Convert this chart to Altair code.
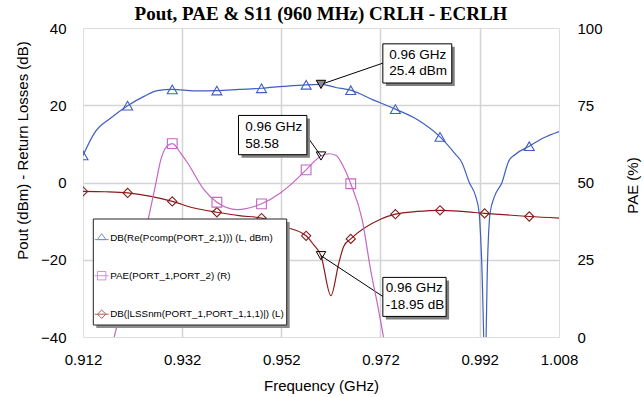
import altair as alt
import pandas as pd

title_text = "Pout, PAE & S11 (960 MHz) CRLH - ECRLH"
series_names = ["DB(Re(Pcomp(PORT_2,1))) (L, dBm)",
                "PAE(PORT_1,PORT_2) (R)",
                "DB(|LSSnm(PORT_1,PORT_1,1,1)|) (L)"]
series_colors = ["#3f5fbf", "#c466c4", "#8c1a1a"]
legend_symbols = ["M-1,0.2H1M-0.6,0.2L0,-0.65L0.6,0.2Z",
                  "M-1,0H1M-0.6,-0.6H0.6V0.6H-0.6Z",
                  "M-1,0H1M0,-0.6L0.6,0L0,0.6L-0.6,0Z"]

x_ticks = [0.912, 0.932, 0.952, 0.972, 0.992, 1.008]
left_ticks = [-40, -20, 0, 20, 40]
right_ticks = [0, 25, 50, 75, 100]

pout_freq = [0.912, 0.9143, 0.9176, 0.921, 0.9243, 0.927, 0.930, 0.9345, 0.939, 0.9435,
             0.948, 0.9525, 0.957, 0.960, 0.963, 0.966, 0.9705, 0.975, 0.9794, 0.984,
             0.987, 0.9884, 0.9899, 0.9912, 0.9919, 0.9924, 0.9931, 0.9936, 0.9941, 0.9950,
             0.9965, 0.9978, 0.9991, 1.002, 1.0048, 1.008]
pout_db = [7.0, 12.8, 16.7, 19.9, 22.3, 23.8, 24.1, 23.7, 23.8, 24.1,
           24.4, 24.9, 25.3, 25.4, 24.6, 23.9, 21.4, 19.0, 16.3, 11.8,
           7.5, 5.2, 0.0, -3.6, -7.9, -20.0, -48.0, -20.0, -7.9, -3.6,
           0.0, 5.4, 7.2, 9.4, 11.5, 13.2]

pae_freq = [0.9178, 0.9183, 0.9223, 0.925, 0.9266, 0.9277, 0.9289, 0.930, 0.9317, 0.9331,
            0.9364, 0.939, 0.9431, 0.948, 0.9518, 0.9539, 0.957, 0.960, 0.9616, 0.963,
            0.9645, 0.966, 0.9683, 0.970, 0.9716, 0.9726, 0.9732]
pae_pct = [-5.0, 0.0, 15.3, 36.9, 49.0, 57.4, 61.7, 62.6, 59.5, 56.3,
           47.7, 43.6, 41.2, 43.1, 46.6, 49.3, 54.1, 58.58, 59.3, 58.8,
           55.2, 49.6, 38.0, 21.8, 8.8, 0.0, -6.0]

s11_freq = [0.912, 0.9165, 0.921, 0.9257, 0.930, 0.9344, 0.939, 0.9435, 0.948, 0.9525,
            0.957, 0.9585, 0.960, 0.962, 0.9636, 0.9646, 0.966, 0.972, 0.975, 0.9794,
            0.984, 0.9885, 0.993, 0.9975, 1.002, 1.008]
s11_db = [-2.3, -2.4, -2.7, -3.6, -4.9, -6.6, -7.7, -8.6, -9.2, -11.4,
          -13.8, -16.1, -18.95, -29.3, -20.8, -16.5, -14.6, -9.5, -8.2, -7.5,
          -7.2, -7.5, -8.0, -8.4, -8.8, -9.2]

marker_freq = [0.912, 0.921, 0.930, 0.939, 0.948, 0.957, 0.966, 0.975, 0.984, 0.993, 1.002]

# marker callouts (index 1 is on the PAE axis)
ann_freq = [0.96, 0.96, 0.96]
ann_value = [25.4, 58.58, -18.95]
ann_line1 = ["0.96 GHz", "0.96 GHz", "0.96 GHz"]
ann_line2 = ["25.4 dBm", "58.58", "-18.95 dB"]
ann_box_f0 = [0.97247, 0.94336, 0.97247]
ann_box_f1 = [0.98637, 0.95715, 0.98523]
ann_box_top = [35.9, 71.7, -24.57]
ann_box_bot = [25.76, 59.0, -34.67]
ann_text_f = [0.97374, 0.94471, 0.97307]
ann_text1_v = [33.09, 67.96, -27.31]
ann_text2_v = [28.76, 62.55, -31.64]
ann_lead_f = [0.97247, 0.95715, 0.97247]
ann_lead_v = [30.9, 65.0, -29.5]
ann_fill = ["#8a8a8a", "white", "white"]

legend_proxy_freq = [1.05, 1.05, 1.05]
legend_proxy_val = [0, 0, 0]

FONT = "Liberation Sans"
GRID = "#d4d4d4"


def xenc(field="freq", **kw):
    return alt.X(f"{field}:Q",
                 scale=alt.Scale(domain=[0.912, 1.008], nice=False, zero=False),
                 axis=alt.Axis(values=x_ticks, format=".3f", title="Frequency (GHz)",
                               grid=True, gridColor=GRID, gridWidth=1.5,
                               gridOpacity={"condition": {"test": "datum.value < 0.9125 || datum.value > 1.0075", "value": 0}, "value": 1},
                               ticks=False, tickSize=0, domain=False,
                               labelFont=FONT, labelFontSize=15, labelColor="black",
                               labelPadding=15, labelFlush=False, labelOverlap=False,
                               titleFont=FONT, titleFontSize=15, titleFontWeight="normal",
                               titleColor="black", titleY=48, titleBaseline="middle"), **kw)


def yleft(field="value"):
    return alt.Y(f"{field}:Q",
                 scale=alt.Scale(domain=[-40, 40], nice=False, zero=False),
                 axis=alt.Axis(values=left_ticks, title="Pout (dBm) - Return Losses (dB)",
                               grid=True, gridColor=GRID, gridWidth=1.5,
                               gridOpacity={"condition": {"test": "abs(datum.value) > 39", "value": 0}, "value": 1},
                               ticks=False, tickSize=0, domain=False,
                               labelFont=FONT, labelFontSize=15, labelColor="black",
                               labelPadding=17,
                               titleFont=FONT, titleFontSize=15, titleFontWeight="normal",
                               titleColor="black", titleAngle=270, titleX=-61, titleY=122,
                               titleAlign="center", titleBaseline="middle"))


def yright(field="value"):
    return alt.Y(f"{field}:Q",
                 scale=alt.Scale(domain=[0, 100], nice=False, zero=False),
                 axis=alt.Axis(values=right_ticks, title="PAE (%)", orient="right",
                               grid=False, ticks=False, tickSize=0, domain=False,
                               labelFont=FONT, labelFontSize=15, labelColor="black",
                               labelPadding=18, labelAlign="left",
                               titleFont=FONT, titleFontSize=15, titleFontWeight="normal",
                               titleColor="black", titleAngle=270, titleX=73.5, titleY=157,
                               titleAlign="center", titleBaseline="middle"))


def series_df(freq, vals):
    return pd.DataFrame({"freq": freq, "value": vals})


def marker_df(freq, vals):
    keys = {round(f, 4) for f in marker_freq}
    return pd.DataFrame([{"freq": f, "value": v} for f, v in zip(freq, vals) if round(f, 4) in keys])


def line_layer(freq, vals, color, yfun):
    return alt.Chart(series_df(freq, vals)).mark_line(
        color=color, strokeWidth=1.2, clip=True, interpolate="monotone"
    ).encode(x=xenc(), y=yfun())


def point_layer(freq, vals, color, shape, size, yfun):
    return alt.Chart(marker_df(freq, vals)).mark_point(
        shape=shape, size=size, color=color, filled=False, strokeWidth=1.1, clip=True, opacity=1
    ).encode(x=xenc(), y=yfun())


def ann_layers(i, yfun):
    d = pd.DataFrame({
        "freq": [ann_freq[i]], "value": [ann_value[i]],
        "f0": [ann_box_f0[i]], "f1": [ann_box_f1[i]],
        "top": [ann_box_top[i]], "bot": [ann_box_bot[i]],
        "tf": [ann_text_f[i]], "t1": [ann_text1_v[i]], "t2": [ann_text2_v[i]],
        "lf": [ann_lead_f[i]], "lv": [ann_lead_v[i]],
        "l1": [ann_line1[i]], "l2": [ann_line2[i]],
    })
    base = alt.Chart(d)
    lead = base.mark_rule(color="black", strokeWidth=1).encode(
        x=xenc(), y=yfun(), x2="lf:Q", y2="lv:Q")
    shadow = base.mark_rect(color="#7f7f7f", xOffset=3, x2Offset=3, yOffset=3, y2Offset=3).encode(
        x=xenc("f0"), x2="f1:Q", y=yfun("top"), y2="bot:Q")
    box = base.mark_rect(fill="white", stroke="black", strokeWidth=1).encode(
        x=xenc("f0"), x2="f1:Q", y=yfun("top"), y2="bot:Q")
    t1 = base.mark_text(font=FONT, fontSize=13.5, align="left", baseline="middle", color="black").encode(
        x=xenc("tf"), y=yfun("t1"), text="l1:N")
    t2 = base.mark_text(font=FONT, fontSize=13.5, align="left", baseline="middle", color="black").encode(
        x=xenc("tf"), y=yfun("t2"), text="l2:N")
    mk = base.mark_point(shape="triangle-down", size=90, stroke="black", strokeWidth=1,
                         fill=ann_fill[i], filled=True, opacity=1, fillOpacity=1 if i == 0 else 0).encode(
        x=xenc(), y=yfun())
    return [lead, shadow, box, t1, t2, mk]


legend_def = alt.Legend(orient="none", legendX=11.2, legendY=202.7, title=None,
                        labelFont=FONT, labelFontSize=9.8, labelColor="black",
                        labelLimit=400, labelOffset=1, symbolSize=196, symbolStrokeWidth=1,
                        rowPadding=24.5, padding=0, zindex=1)

legend_layer = alt.Chart(pd.DataFrame({"freq": legend_proxy_freq, "value": legend_proxy_val,
                                       "series": series_names})).mark_point(
    filled=False, clip=True, strokeWidth=1
).encode(
    x=xenc(), y=yleft(),
    color=alt.Color("series:N", scale=alt.Scale(domain=series_names, range=series_colors), legend=legend_def),
    shape=alt.Shape("series:N", scale=alt.Scale(domain=series_names, range=legend_symbols), legend=legend_def),
)

left = alt.layer(
    line_layer(pout_freq, pout_db, series_colors[0], yleft),
    line_layer(s11_freq, s11_db, series_colors[2], yleft),
    point_layer(pout_freq, pout_db, series_colors[0], "triangle-up", 100, yleft),
    point_layer(s11_freq, s11_db, series_colors[2], "diamond", 85, yleft),
    legend_layer,
    *ann_layers(0, yleft),
    *ann_layers(2, yleft),
)

right = alt.layer(
    line_layer(pae_freq, pae_pct, series_colors[1], yright),
    point_layer(pae_freq, pae_pct, series_colors[1], "square", 95, yright),
    *ann_layers(1, yright),
)

one = pd.DataFrame({"k": [0]})
legend_shadow = alt.Chart(one).mark_rect(color="#8c8c8c").encode(
    x=alt.value(13.3), x2=alt.value(206.7), y=alt.value(194), y2=alt.value(300))
legend_box = alt.Chart(one).mark_rect(fill="white", stroke="#222222", strokeWidth=1).encode(
    x=alt.value(10.3), x2=alt.value(203.7), y=alt.value(191), y2=alt.value(297))

chart = alt.layer(left, right, legend_shadow, legend_box).resolve_scale(
    y="independent"
).properties(
    width=476, height=309,
    padding={"left": 83, "top": 28, "right": 85, "bottom": 60},
    autosize=alt.AutoSizeParams(type="none"),
    title=alt.Title(title_text, font="Liberation Serif", fontSize=19, fontWeight="bold",
                    color="black", anchor="middle", baseline="alphabetic", offset=-18,
                    frame="group"),
).configure_view(stroke="black", strokeWidth=1.5).configure(background="white")

chart.save("out.html", embed_options={"renderer": "svg", "actions": False})
